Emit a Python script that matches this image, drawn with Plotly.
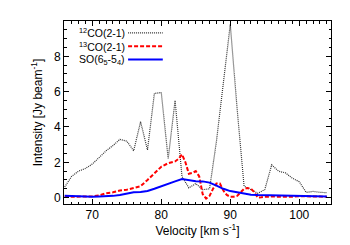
import plotly.graph_objects as go

# 12CO(2-1)
v12 = list(range(66, 105))
i12 = [0.6, 1.2, 1.5, 1.65, 1.9, 2.3, 2.65, 2.95, 3.3, 3.2,
       2.65, 4.3, 2.7, 5.9, 5.95, 2.2, 5.5, 1.2, 0.55, 0.8,
       0.45, 0.5, 3.2, 6.5, 9.8, 5.0, 0.65, 0.45, 0.25, 0.45,
       1.85, 1.5, 1.4, 1.1, 0.9, 0.3, 0.35, 0.3, 0.28]

# 13CO(2-1)
v13 = [66, 67, 68, 69, 70, 71, 72, 73, 74, 75, 76, 77, 78, 79, 80, 81, 82, 82.5,
       83, 83.5, 84, 84.5, 85, 85.5, 86, 86.5, 87, 87.5, 88, 88.5, 89, 89.5,
       90, 90.5, 91, 91.5, 92, 92.5, 93, 93.5, 94, 94.5, 95, 96, 97, 98, 99,
       100, 101, 102, 103, 104]
i13 = [0.05, 0.04, 0.05, 0.06, 0.08, 0.12, 0.25, 0.3, 0.4, 0.45, 0.55, 0.65, 1.0,
       1.4, 1.75, 1.95, 2.05, 2.2, 2.45, 2.0, 1.35, 1.4, 1.5, 1.2, 0.2, -0.05,
       0.1, 0.5, 0.8, 0.8, 0.4, 0.15, 0.05, 0.05, 0.1, 0.3, 0.5, 0.55, 0.5,
       0.3, 0.0, 0.02, 0.05, 0.06, 0.05, 0.07, 0.05, 0.08, 0.06, 0.05, 0.06, 0.05]

# SO(6_5-5_4)
vso = list(range(66, 105))
iso = [0.1, 0.08, 0.05, 0.05, 0.05, 0.07, 0.08, 0.1, 0.15, 0.22,
       0.3, 0.32, 0.38, 0.5, 0.65, 0.78, 0.92, 1.05, 0.97, 0.93,
       0.92, 0.85, 0.68, 0.5, 0.37, 0.3, 0.2, 0.17, 0.15, 0.14,
       0.13, 0.12, 0.1, 0.12, 0.1, 0.1, 0.08, 0.07, 0.06]

labels = ["<sup>12</sup>CO(2-1)", "<sup>13</sup>CO(2-1)", "SO(6<sub>5</sub>-5<sub>4</sub>)"]
colors = ["#333333", "#ff0000", "#0000ff"]
dashes = ["1px,1px", "4px,2px", "solid"]
widths = [1.2, 2, 2]

fig = go.Figure()
for v, i, c, d, w, n in zip([v12, v13, vso], [i12, i13, iso], colors, dashes, widths, labels):
    fig.add_trace(go.Scatter(x=v, y=i, mode="lines", name=n,
                             line=dict(color=c, dash=d, width=w),
                             showlegend=False))

font = "Liberation Sans, Arial, sans-serif"
# manual legend: text on left, line sample on right (IDL style)
ys = [0.935, 0.862, 0.789]
for n, c, d, w, yy in zip(labels, colors, dashes, widths, ys):
    fig.add_annotation(x=0.235, y=yy, xref="paper", yref="paper", text=n,
                       showarrow=False, xanchor="right", yanchor="middle",
                       font=dict(size=10.5, color="black", family=font))
    fig.add_shape(type="line", xref="paper", yref="paper",
                  x0=0.24, x1=0.37, y0=yy, y1=yy,
                  line=dict(color=c, dash=d, width=w))

axis_common = dict(showline=True, linecolor="black", linewidth=1, mirror="allticks",
                   ticks="inside", ticklen=5, tickcolor="black", tickwidth=1,
                   showgrid=False, zeroline=False,
                   tickfont=dict(size=12, family=font, color="black"))

fig.update_xaxes(range=[65.9, 104.6], tickvals=[70, 80, 90, 100],
                 minor=dict(dtick=1, tick0=0, ticks="inside", ticklen=2.5, tickcolor="black"),
                 title=dict(text="Velocity [km s<sup>-1</sup>]", font=dict(size=12, family=font, color="black"), standoff=3),
                 **axis_common)
fig.update_yaxes(range=[-0.36, 10.0], tickvals=[0, 2, 4, 6, 8],
                 minor=dict(dtick=0.5, tick0=0, ticks="inside", ticklen=2.5, tickcolor="black"),
                 title=dict(text="Intensity [Jy beam<sup>-1</sup>]", font=dict(size=12, family=font, color="black"), standoff=8),
                 **axis_common)

fig.update_layout(width=350, height=245, margin=dict(l=64, r=19, t=21, b=41),
                  plot_bgcolor="white", paper_bgcolor="white")

fig.write_html("out.html", config={"displayModeBar": False, "staticPlot": True})

with open("out.html", "r", encoding="utf-8") as f:
    html = f.read()
html = html.replace("<head>", "<head><style>html,body{margin:0;padding:0;overflow:hidden;}</style>", 1)
with open("out.html", "w", encoding="utf-8") as f:
    f.write(html)
